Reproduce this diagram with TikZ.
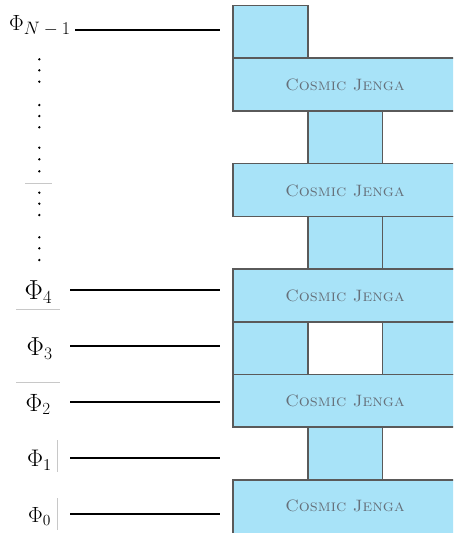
\RequirePackage{fix-cm}
\documentclass[tikz,border=0pt]{standalone}
\usepackage{graphicx}
\definecolor{jblue}{HTML}{A8E3F8}
\definecolor{jedge}{HTML}{5A5A5A}
\definecolor{jtext}{HTML}{66707A}
\definecolor{faint}{HTML}{C8C8C8}
\newcommand\philab[3]{\fontsize{#1}{#1}\selectfont$\Phi_{\mbox{\fontsize{#2}{#2}\selectfont$#3$}}$}
\begin{document}
\begin{tikzpicture}[x=1pt,y=-1pt,
  blk/.style={draw=jedge, fill=jblue, line width=1.6pt, inner sep=0pt, outer sep=0pt,
              anchor=north west, minimum height=52.7pt},
  small/.style={blk, minimum width=74.7pt},
  long/.style={blk, minimum width=224pt},
  jtxt/.style={text=jtext, font=\fontsize{16.5}{16.5}\selectfont, inner sep=0pt},
  lab/.style={anchor=base west, inner sep=0pt},
  conn/.style={line width=1.7pt, black},
  faintline/.style={faint, line width=0.8pt}]
\clip (0,0) rectangle (453,533);
\useasboundingbox (0,0) rectangle (453,533);
% blocks (rows of height 52.7, starting at 5.5)
\node[small] (r0a) at (233,5.5) {};
\node[long]  (r1)  at (233,58.2) {};
\node[small] (r2a) at (307.7,110.9) {};
\node[long]  (r3)  at (233,163.6) {};
\node[small] (r4a) at (307.7,216.3) {};
\node[small] (r4b) at (382.4,216.3) {};
\node[long]  (r5)  at (233,269.0) {};
\node[small] (r6a) at (233,321.7) {};
\node[blk, fill=white, minimum width=74.7pt] (r6g) at (307.7,321.7) {};
\node[small] (r6b) at (382.4,321.7) {};
\node[long]  (r7)  at (233,374.4) {};
\node[small] (r8a) at (307.7,427.1) {};
\node[long, minimum height=58pt]  (r9)  at (233,479.8) {};
% texts
\foreach \r in {r1,r3,r5,r7} {
  \node[jtxt] at ([yshift=-0.5pt]\r.center) {\scalebox{1.05}[1]{\textsc{Cosmic Jenga}}};
}
\node[jtxt] (t9) at (345,506.2) {\scalebox{1.05}[1]{\textsc{Cosmic Jenga}}};
% labels
\node[lab] (pN) at (9,30) {\philab{22}{18}{N-1}};
\node[lab] (p4) at (24.5,299.5) {\philab{27.5}{18.5}{4}};
\node[lab] (p3) at (26.5,355.5) {\philab{26}{17.5}{3}};
\node[lab] (p2) at (25.5,411) {\philab{25}{17}{2}};
\node[lab] (p1) at (27,466.5) {\philab{24}{16.5}{1}};
\node[lab] (p0) at (28,522.5) {\philab{22}{15.5}{0}};
% connectors
\coordinate (aN) at (75,30);   \coordinate (bN) at (220,30);
\coordinate (a4) at (70,290);  \coordinate (b4) at (220,290);
\coordinate (a3) at (70,346);  \coordinate (b3) at (220,346);
\coordinate (a2) at (70,401.7);\coordinate (b2) at (220,401.7);
\coordinate (a1) at (70,457.7);\coordinate (b1) at (220,457.7);
\coordinate (a0) at (70,514);  \coordinate (b0) at (220,514);
\foreach \i in {N,4,3,2,1,0} { \draw[conn] (a\i) -- (b\i); }
% vertical dots
\foreach \y in {59.3,70.3,81.7,105,116,127.3,147.7,159.3,171.3,192.7,203.7,215,237.3,248.3,260} {
  \fill (39.3,\y) circle (1.3pt);
}
% faint lines
\draw[faintline] (25,183.3) -- (52,183.3);
\draw[faintline] (16,309.3) -- (60,309.3);
\draw[faintline] (16,382.3) -- (60,382.3);
\draw[faintline] (57.5,440) -- (57.5,472);
\draw[faintline] (57.5,498) -- (57.5,530);
\end{tikzpicture}
\end{document}
